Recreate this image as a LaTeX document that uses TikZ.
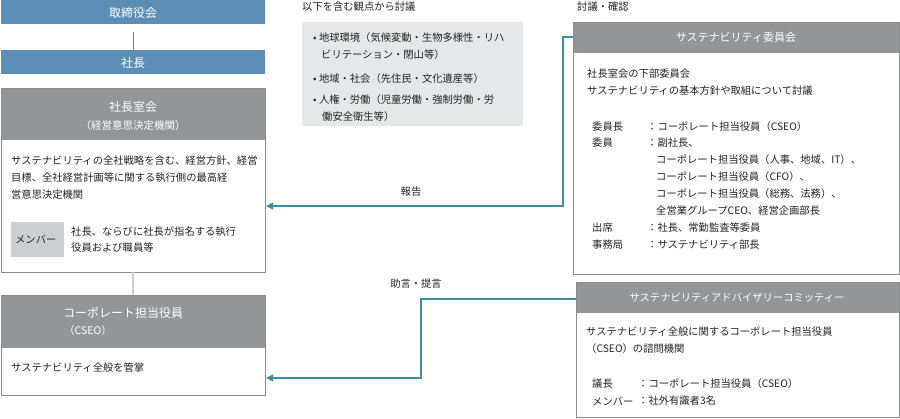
\documentclass[tikz,border=0pt]{standalone}
\usepackage{fontspec}
\setmainfont{Noto Sans CJK JP}
\usetikzlibrary{arrows.meta}
\definecolor{blu}{HTML}{5B8DB5}
\definecolor{hdr}{HTML}{939598}
\definecolor{lgr}{HTML}{E6E7E8}
\definecolor{mgr}{HTML}{CDCED0}
\definecolor{arr}{HTML}{3E8FA6}
\definecolor{txt}{HTML}{222222}
\definecolor{brd}{HTML}{8A8C8E}
\tikzset{
 x=1pt,y=-1pt,
 tx/.style={font=\fontsize{10.3}{12}\selectfont,text=txt,inner sep=0pt,anchor=west},
 hd/.style={font=\fontsize{12}{14}\selectfont,text=white,inner sep=0pt},
 frame/.style={draw=brd,line width=0.8pt},
 conn/.style={draw=arr,line width=1.3pt,-{Triangle[length=7pt,width=7pt]}},
}
\begin{document}
\begin{tikzpicture}
\useasboundingbox (0,0) rectangle (900,419);
% left column
\fill[blu] (1,0) rectangle (265,24);
\node[hd] (tori) at (133,13) {取締役会};
\fill[blu] (1,50) rectangle (265,74);
\node[hd] (sha) at (133,63) {社長};
\draw[gray,line width=0.8pt] (133,32) -- (133,50);
\fill[hdr] (1,88) rectangle (265,140);
\draw[frame] (1,88) rectangle (265,272);
\node[hd] (shitsu) at (133,107) {社長室会};
\node[hd,font=\fontsize{10.5}{12}\selectfont] at (133,126) {（経営意思決定機関）};
\node[tx] at (11,161) {サステナビリティの全社戦略を含む、経営方針、経営};
\node[tx] at (11,178) {目標、全社経営計画等に関する執行側の最高経};
\node[tx] at (11,195) {営意思決定機関};
\fill[mgr] (11,222) rectangle (64,257);
\node[tx] at (15,239) {メンバー};
\node[tx] at (71,232) {社長、ならびに社長が指名する執行};
\node[tx] at (71,248) {役員および職員等};
\draw[mgr,line width=1.5pt] (133,272) -- (133,295);
\fill[hdr] (1,295) rectangle (265,348);
\draw[frame] (1,295) rectangle (265,395);
\node[hd,anchor=west] at (63,313) {コーポレート担当役員};
\node[hd,anchor=west,font=\fontsize{10.5}{12}\selectfont] at (64,331) {（CSEO）};
\node[tx] at (11,368) {サステナビリティ全般を管掌};
\coordinate (la) at (266,206);
\coordinate (lb) at (266,378);
% middle
\node[tx] at (302,7) {以下を含む観点から討議};
\fill[lgr] (302,22) rectangle (523,126);
\node[tx] at (313,38) {•\ 地球環境（気候変動・生物多様性・リハ};
\node[tx] at (321,55) {ビリテーション・閉山等）};
\node[tx] at (313,79) {•\ 地域・社会（先住民・文化遺産等）};
\node[tx] at (313,100) {•\ 人権・労働（児童労働・強制労働・労};
\node[tx] at (322,117) {働安全衛生等）};
\node[tx,anchor=center] at (411,192) {報告};
\node[tx,anchor=center] at (416,284) {助言・提言};
% right box 1
\node[tx] at (577,7) {討議・確認};
\fill[hdr] (573,22) rectangle (899,53);
\draw[frame] (573,22) rectangle (899,274);
\node[hd,font=\fontsize{11}{13}\selectfont] (comm) at (736,37) {サステナビリティ委員会};
\node[tx] at (587,74) {社長室会の下部委員会};
\node[tx] at (587,91) {サステナビリティの基本方針や取組について討議};
\node[tx] at (592,127) {委員長};
\node[tx] at (592,143) {委員};
\node[tx] at (592,228) {出席};
\node[tx] at (592,245) {事務局};
\node[tx] at (647,127) {：コーポレート担当役員（CSEO）};
\node[tx] at (647,143) {：副社長、};
\node[tx] at (656,160) {コーポレート担当役員（人事、地域、IT）、};
\node[tx] at (656,177) {コーポレート担当役員（CFO）、};
\node[tx] at (656,194) {コーポレート担当役員（総務、法務）、};
\node[tx] at (656,211) {全営業グループCEO、経営企画部長};
\node[tx] at (647,228) {：社長、常勤監査等委員};
\node[tx] at (647,245) {：サステナビリティ部長};
% right box 2
\fill[hdr] (576,282) rectangle (899,313);
\draw[frame] (576,282) rectangle (899,417);
\node[hd,font=\fontsize{10.3}{12}\selectfont] (adv) at (737,298) {サステナビリティアドバイザリーコミッティー};
\node[tx] at (586,332) {サステナビリティ全般に関するコーポレート担当役員};
\node[tx] at (586,349) {（CSEO）の諮問機関};
\node[tx] at (592,384) {議長};
\node[tx] at (592,401) {メンバー};
\node[tx] at (638,384) {：コーポレート担当役員（CSEO）};
\node[tx] at (638,401) {：社外有識者3名};
% connectors
\coordinate (ca) at (573,37);
\coordinate (cb) at (576,299);
\draw[conn] (ca) -- (563,37) -- (563,206) -- (la);
\draw[conn] (cb) -- (421,299) -- (421,378) -- (lb);
\end{tikzpicture}
\end{document}
